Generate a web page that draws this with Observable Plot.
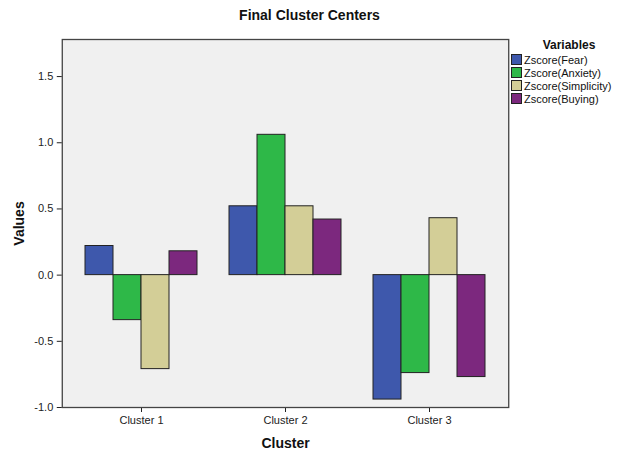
<!DOCTYPE html>
<html>
<head>
<meta charset="utf-8">
<script src="https://cdn.jsdelivr.net/npm/d3@7"></script>
<script src="https://cdn.jsdelivr.net/npm/@observablehq/plot@0.6"></script>
<style>
  body { margin: 0; background: #fff; font-family: "Liberation Sans", Arial, sans-serif; }
  #wrap { position: relative; width: 619px; height: 452px; }
  #title { position: absolute; top: 7px; left: 0; width: 619px; text-align: center; font-weight: bold; font-size: 14px; color: #111; }
  #chart { position: absolute; top: 30px; left: 0; }
  #legend { position: absolute; left: 511px; top: 38px; width: 108px; font-size: 11px; color: #111; }
  #legend .head { font-weight: bold; font-size: 12px; text-align: center; margin-bottom: 1px; padding-left: 8px; }
  #legend .item { display: flex; align-items: center; height: 13px; white-space: nowrap; }
  #legend .sw { width: 9px; height: 9px; border: 1px solid #222; margin-right: 2px; flex: none; }
  svg [aria-label="y-axis label"] text, svg [aria-label="fx-axis label"] text,
  svg [aria-label="y-axis label"], svg [aria-label="fx-axis label"] { font-weight: bold; font-size: 14px; fill: #111; }
</style>
</head>
<body>
<div id="wrap">
  <div id="title">Final Cluster Centers</div>
  <div id="chart"></div>
  <div id="legend"></div>
</div>
<script>
const clusters = ["Cluster 1", "Cluster 2", "Cluster 3"];
const variables = ["Zscore(Fear)", "Zscore(Anxiety)", "Zscore(Simplicity)", "Zscore(Buying)"];
const colors = ["#3e58ac", "#2eb848", "#d3ce97", "#7c287e"];
const fear = [0.22, 0.52, -0.94];
const anxiety = [-0.34, 1.06, -0.74];
const simplicity = [-0.71, 0.52, 0.43];
const buying = [0.18, 0.42, -0.77];
const yTicks = [-1.0, -0.5, 0.0, 0.5, 1.0, 1.5];

const series = [fear, anxiety, simplicity, buying];
const data = [];
clusters.forEach((c, i) => variables.forEach((v, j) => data.push({cluster: c, variable: v, value: series[j][i]})));

const W = 619, ML = 61, MR = 110, fxOuter = 0.05;
const outerPx = fxOuter * (W - ML - MR) / (clusters.length + 2 * fxOuter);

const chart = Plot.plot({
  width: W,
  height: 422,
  marginTop: 9,
  marginBottom: 45,
  marginLeft: ML,
  marginRight: MR,
  style: {fontFamily: "'Liberation Sans', Arial, sans-serif", fontSize: "11px", color: "#222", background: "transparent", overflow: "visible"},
  fx: {domain: clusters, paddingInner: 0, paddingOuter: fxOuter, label: "Cluster", labelAnchor: "center", labelOffset: 40, tickSize: 5},
  x: {domain: variables, axis: null, paddingInner: 0, paddingOuter: 0.52},
  y: {domain: [-1, 1.78]},
  color: {domain: variables, range: colors},
  marks: [
    Plot.frame({facet: "super", fill: "#f0f0f0", stroke: "none", insetLeft: -outerPx, insetRight: -outerPx}),
    Plot.barY(data, {fx: "cluster", x: "variable", y: "value", fill: "variable", stroke: "#222", strokeWidth: 1}),
    Plot.frame({facet: "super", stroke: "#444", strokeWidth: 1.3, insetLeft: -outerPx, insetRight: -outerPx}),
    Plot.axisY({ticks: yTicks, tickFormat: d => d.toFixed(1), tickSize: 5, label: "Values", labelAnchor: "center", labelOffset: 55, labelArrow: "none", dx: -outerPx})
  ]
});
document.getElementById("chart").appendChild(chart);

const leg = document.getElementById("legend");
leg.innerHTML = '<div class="head">Variables</div>' + variables.map((v, i) =>
  `<div class="item"><span class="sw" style="background:${colors[i]}"></span>${v}</div>`).join("");
</script>
</body>
</html>
